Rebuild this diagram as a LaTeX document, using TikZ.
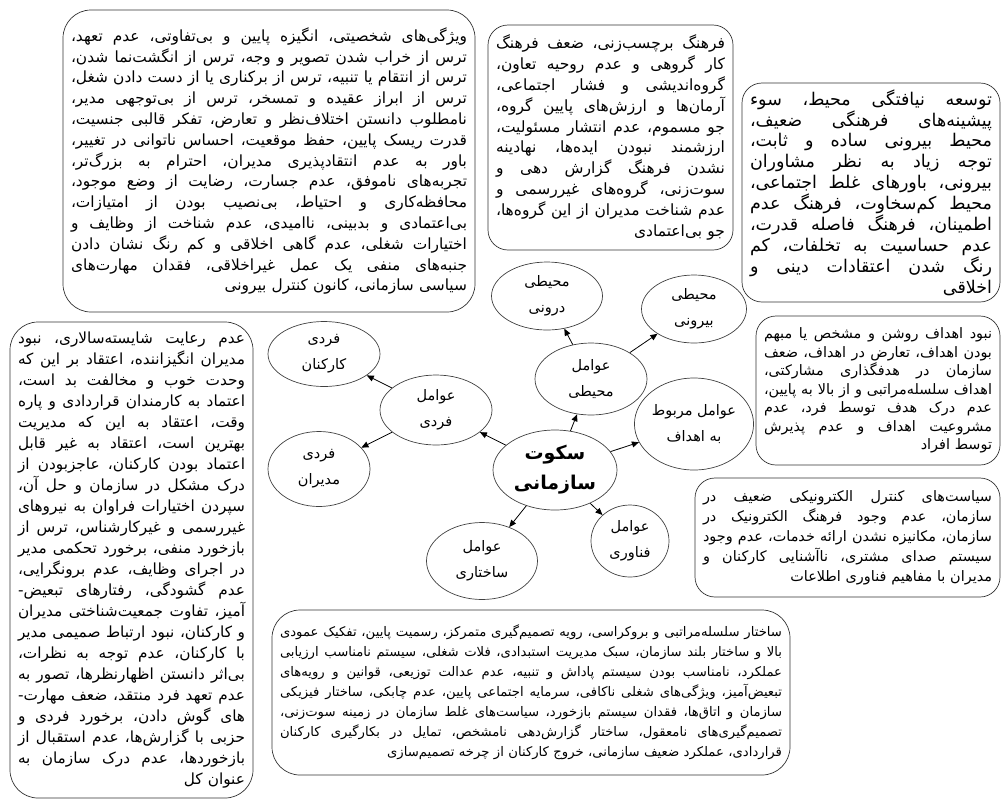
\documentclass[tikz,border=0pt]{standalone}
\usepackage{fontspec}
\usetikzlibrary{arrows.meta,positioning,shapes.geometric}
\TeXXeTstate=1
\newfontfamily\farsi[Script=Arabic]{DejaVu Sans}
\newcommand\rl[1]{\beginR#1\endR}
\newcommand\jl[1]{\hbox to\hsize{\spaceskip=.3em plus 1fil minus .1em\relax\beginR#1\endR}}
\newcommand\el[1]{\hbox to\hsize{\hfill\beginR#1\endR}}
\newcommand\fsz[2]{\farsi\fontsize{#1}{#2}\selectfont}
\tikzset{txtbox/.style={draw=black!80,line width=0.7pt,rounded corners=20pt,inner xsep=8pt,inner ysep=0pt,font=\fsz{15}{20.8}},factor/.style={ellipse,draw=black!75,line width=0.7pt,inner sep=0pt,align=center,font=\fsz{14.5}{26}},arr/.style={-{Triangle[length=7pt,width=6pt]},line width=0.8pt}}
\begin{document}
\begin{tikzpicture}[x=1pt,y=-1pt]
\useasboundingbox (0,0) rectangle (1004,807);
% عوامل و سکوت
\node[factor,minimum width=124pt,minimum height=80pt,font=\bfseries\fsz{19}{30}] (sokut) at (555,470) {\rl{سکوت}\\\rl{سازمانی}};
\node[factor,minimum width=112pt,minimum height=70pt] (fardi) at (436,410) {\rl{عوامل}\\\rl{فردی}};
\node[factor,minimum width=112pt,minimum height=65pt] (karkonan) at (324,354) {\rl{فردی}\\\rl{کارکنان}};
\node[factor,minimum width=102pt,minimum height=75pt] (modiran) at (319,469) {\rl{فردی}\\\rl{مدیران}};
\node[factor,minimum width=111pt,minimum height=77pt] (sakhtari) at (482,561) {\rl{عوامل}\\\rl{ساختاری}};
\node[factor,minimum width=112pt,minimum height=72pt] (mohiti) at (591,379) {\rl{عوامل}\\\rl{محیطی}};
\node[factor,minimum width=111pt,minimum height=68pt] (darooni) at (547,296) {\rl{محیطی}\\\rl{درونی}};
\node[factor,minimum width=105pt,minimum height=68pt] (birooni) at (694,309) {\rl{محیطی}\\\rl{بیرونی}};
\node[factor,minimum width=118pt,minimum height=92pt] (ahdaf) at (694,424) {\rl{عوامل مربوط}\\\rl{به اهداف}};
\node[factor,minimum width=78pt,minimum height=72pt] (fanavari) at (630,541) {\rl{عوامل}\\\rl{فناوری}};
\draw[arr] (sokut) -- (fardi);
\draw[arr] (sokut) -- (mohiti);
\draw[arr] (sokut) -- (ahdaf);
\draw[arr] (sokut) -- (fanavari);
\draw[arr] (sokut) -- (sakhtari);
\draw[arr] (fardi) -- (karkonan);
\draw[arr] (fardi) -- (modiran);
\draw[arr] (mohiti) -- (darooni);
\draw[arr] (mohiti) -- (birooni);
% کادرهای توضیح
\node[txtbox,rounded corners=28pt,text width=396pt,minimum height=302pt,font=\fsz{15.4}{20.8}] (boxKarkonan) at (269,161) {%
\jl{ویژگی‌های شخصیتی، انگیزه پایین و بی‌تفاوتی، عدم تعهد،}
\jl{ترس از خراب شدن تصویر و وجه، ترس از انگشت‌نما شدن،}
\jl{ترس از انتقام یا تنبیه، ترس از برکناری یا از دست دادن شغل،}
\jl{ترس از ابراز عقیده و تمسخر، ترس از بی‌توجهی مدیر،}
\jl{نامطلوب دانستن اختلاف‌نظر و تعارض، تفکر قالبی جنسیت،}
\jl{قدرت ریسک پایین، حفظ موقعیت، احساس ناتوانی در تغییر،}
\jl{باور به عدم انتقادپذیری مدیران، احترام به بزرگ‌تر،}
\jl{تجربه‌های ناموفق، عدم جسارت، رضایت از وضع موجود،}
\jl{محافظه‌کاری و احتیاط، بی‌نصیب بودن از امتیازات،}
\jl{بی‌اعتمادی و بدبینی، ناامیدی، عدم شناخت از وظایف و}
\jl{اختیارات شغلی، عدم گاهی اخلاقی و کم رنگ نشان دادن}
\jl{جنبه‌های منفی یک عمل غیراخلاقی، فقدان مهارت‌های}
\el{سیاسی سازمانی، کانون کنترل بیرونی}};
\node[txtbox,text width=229pt,minimum height=225pt,font=\fsz{15.5}{20.8}] (boxDarooni) at (610.5,137.5) {%
\jl{فرهنگ برچسب‌زنی، ضعف فرهنگ}
\jl{کار گروهی و عدم روحیه تعاون،}
\jl{گروه‌اندیشی و فشار اجتماعی،}
\jl{آرمان‌ها و ارزش‌های پایین گروه،}
\jl{جو مسموم، عدم انتشار مسئولیت،}
\jl{ارزشمند نبودن ایده‌ها، نهادینه}
\jl{نشدن فرهنگ گزارش دهی و}
\jl{سوت‌زنی، گروه‌های غیررسمی و}
\jl{عدم شناخت مدیران از این گروه‌ها،}
\el{جو بی‌اعتمادی}};
\node[txtbox,text width=242pt,minimum height=219pt,font=\fsz{17.5}{20.9}] (boxBirooni) at (871,192.5) {%
\jl{توسعه نیافتگی محیط، سوء}
\jl{پیشینه‌های فرهنگی ضعیف،}
\jl{محیط بیرونی ساده و ثابت،}
\jl{توجه زیاد به نظر مشاوران}
\jl{بیرونی، باورهای غلط اجتماعی،}
\jl{محیط کم‌سخاوت، فرهنگ عدم}
\jl{اطمینان، فرهنگ فاصله قدرت،}
\jl{عدم حساسیت به تخلفات، کم}
\jl{رنگ شدن اعتقادات دینی و}
\el{اخلاقی}};
\node[txtbox,text width=228pt,minimum height=149pt,font=\fsz{14.4}{18.5}] (boxAhdaf) at (878,390.5) {%
\jl{نبود اهداف روشن و مشخص یا مبهم}
\jl{بودن اهداف، تعارض در اهداف، ضعف}
\jl{سازمان در هدفگذاری مشارکتی،}
\jl{اهداف سلسله‌مراتبی و از بالا به پایین،}
\jl{عدم درک هدف توسط فرد، عدم}
\jl{مشروعیت اهداف و عدم پذیرش}
\el{توسط افراد}};
\node[txtbox,text width=289pt,minimum height=119pt,font=\fsz{14.4}{20}] (boxFanavari) at (847.5,537.5) {%
\jl{سیاست‌های کنترل الکترونیکی ضعیف در}
\jl{سازمان، عدم وجود فرهنگ الکترونیک در}
\jl{سازمان، مکانیزه نشدن ارائه خدمات، عدم وجود}
\jl{سیستم صدای مشتری، ناآشنایی کارکنان و}
\el{مدیران با مفاهیم فناوری اطلاعات}};
\node[txtbox,rounded corners=28pt,text width=502pt,minimum height=165pt,font=\fsz{13.2}{20}] (boxSakhtari) at (531,692.5) {%
\jl{ساختار سلسله‌مراتبی و بروکراسی، رویه تصمیم‌گیری متمرکز، رسمیت پایین، تفکیک عمودی}
\jl{بالا و ساختار بلند سازمان، سبک مدیریت استبدادی، فلات شغلی، سیستم نامناسب ارزیابی}
\jl{عملکرد، نامناسب بودن سیستم پاداش و تنبیه، عدم عدالت توزیعی، قوانین و رویه‌های}
\jl{تبعیض‌آمیز، ویژگی‌های شغلی ناکافی، سرمایه اجتماعی پایین، عدم چابکی، ساختار فیزیکی}
\jl{سازمان و اتاق‌ها، فقدان سیستم بازخورد، سیاست‌های غلط سازمان در زمینه سوت‌زنی،}
\jl{تصمیم‌گیری‌های نامعقول، ساختار گزارش‌دهی نامشخص، تمایل در بکارگیری کارکنان}
\el{قراردادی، عملکرد ضعیف سازمانی، خروج کارکنان از چرخه تصمیم‌سازی}};
\node[txtbox,rounded corners=28pt,text width=227pt,minimum height=476pt,font=\fsz{15.3}{21}] (boxModiran) at (131.5,560) {%
\jl{عدم رعایت شایسته‌سالاری، نبود}
\jl{مدیران انگیزاننده، اعتقاد بر این که}
\jl{وحدت خوب و مخالفت بد است،}
\jl{اعتماد به کارمندان قراردادی و پاره}
\jl{وقت، اعتقاد به این که مدیریت}
\jl{بهترین است، اعتقاد به غیر قابل}
\jl{اعتماد بودن کارکنان، عاجزبودن از}
\jl{درک مشکل در سازمان و حل آن،}
\jl{سپردن اختیارات فراوان به نیروهای}
\jl{غیررسمی و غیرکارشناس، ترس از}
\jl{بازخورد منفی، برخورد تحکمی مدیر}
\jl{در اجرای وظایف، عدم برونگرایی،}
\jl{عدم گشودگی، رفتارهای تبعیض-}
\jl{آمیز، تفاوت جمعیت‌شناختی مدیران}
\jl{و کارکنان، نبود ارتباط صمیمی مدیر}
\jl{با کارکنان، عدم توجه به نظرات،}
\jl{بی‌اثر دانستن اظهارنظرها، تصور به}
\jl{عدم تعهد فرد منتقد، ضعف مهارت-}
\jl{های گوش دادن، برخورد فردی و}
\jl{حزبی با گزارش‌ها، عدم استقبال از}
\jl{بازخوردها، عدم درک سازمان به}
\el{عنوان کل}};
\end{tikzpicture}
\end{document}
